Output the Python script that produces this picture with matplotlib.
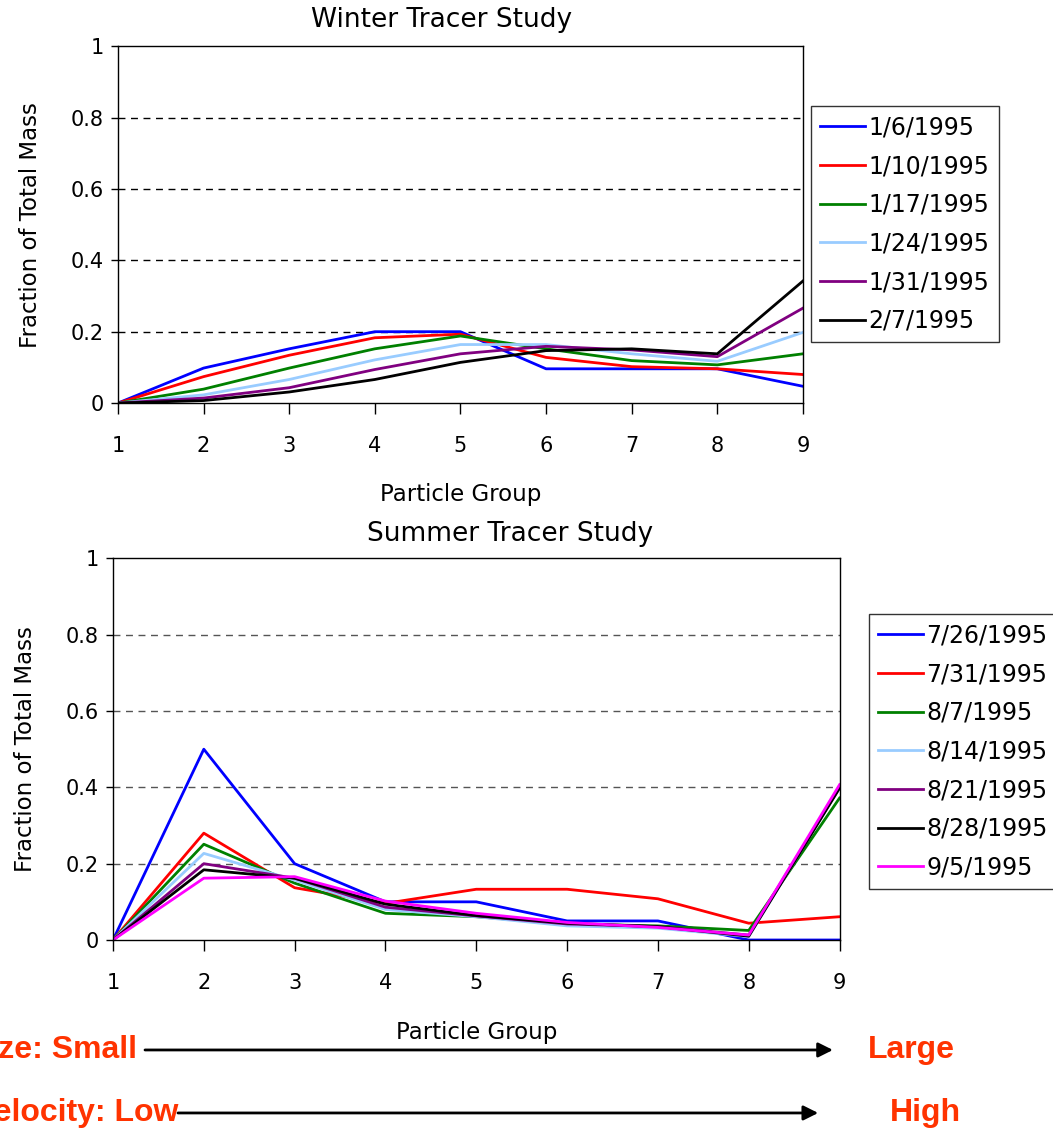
import matplotlib
matplotlib.use("Agg")
import matplotlib.pyplot as plt
from matplotlib.patches import FancyArrowPatch

# particle groups on the x axis
groups = [1, 2, 3, 4, 5, 6, 7, 8, 9]

# winter tracer study: fraction of total mass per particle group
winter_dates = ["1/6/1995", "1/10/1995", "1/17/1995", "1/24/1995", "1/31/1995", "2/7/1995"]
winter_colors = ["#0000ff", "#ff0000", "#008000", "#99ccff", "#800080", "#000000"]
w_0106 = [0, 0.098, 0.152, 0.200, 0.200, 0.096, 0.096, 0.096, 0.047]
w_0110 = [0, 0.074, 0.134, 0.183, 0.193, 0.128, 0.102, 0.096, 0.080]
w_0117 = [0, 0.039, 0.098, 0.152, 0.188, 0.152, 0.119, 0.107, 0.138]
w_0124 = [0, 0.023, 0.066, 0.121, 0.164, 0.164, 0.138, 0.117, 0.198]
w_0131 = [0, 0.014, 0.043, 0.094, 0.138, 0.159, 0.149, 0.130, 0.266]
w_0207 = [0, 0.007, 0.031, 0.066, 0.114, 0.147, 0.152, 0.138, 0.342]
winter_series = [w_0106, w_0110, w_0117, w_0124, w_0131, w_0207]

# summer tracer study
summer_dates = ["7/26/1995", "7/31/1995", "8/7/1995", "8/14/1995", "8/21/1995", "8/28/1995", "9/5/1995"]
summer_colors = ["#0000ff", "#ff0000", "#008000", "#99ccff", "#800080", "#000000", "#ff00ff"]
s_0726 = [0, 0.500, 0.200, 0.100, 0.100, 0.050, 0.050, 0.000, 0.000]
s_0731 = [0, 0.280, 0.137, 0.096, 0.133, 0.133, 0.108, 0.044, 0.061]
s_0807 = [0, 0.251, 0.149, 0.070, 0.061, 0.042, 0.037, 0.025, 0.372]
s_0814 = [0, 0.227, 0.157, 0.080, 0.061, 0.037, 0.031, 0.009, 0.400]
s_0821 = [0, 0.200, 0.162, 0.086, 0.063, 0.042, 0.035, 0.013, 0.400]
s_0828 = [0, 0.184, 0.162, 0.094, 0.064, 0.044, 0.035, 0.010, 0.398]
s_0905 = [0, 0.162, 0.166, 0.102, 0.070, 0.046, 0.033, 0.013, 0.407]
summer_series = [s_0726, s_0731, s_0807, s_0814, s_0821, s_0828, s_0905]

y_ticks = [0, 0.2, 0.4, 0.6, 0.8, 1]
y_tick_labels = ["0", "0.2", "0.4", "0.6", "0.8", "1"]

ORANGE = "#ff3300"

fig = plt.figure(figsize=(10.53, 11.29), dpi=100)


def draw_panel(rect, title, title_pos, dates, colors, series, grid_color,
               legend_anchor, xlab_y, ylab_x):
    ax = fig.add_axes(rect)
    for date, color, values in zip(dates, colors, series):
        ax.plot(groups, values, color=color, lw=2.0, label=date)
    ax.set_xlim(1, 9)
    ax.set_ylim(0, 1)
    ax.set_xticks(groups)
    ax.set_yticks(y_ticks)
    ax.set_yticklabels(y_tick_labels)
    for y in y_ticks[1:-1]:
        ax.axhline(y, color=grid_color, lw=1.0, ls=(0, (5, 4)), zorder=0)
    ax.tick_params(axis="x", direction="out", length=8, width=1, pad=16, labelsize=15)
    ax.tick_params(axis="y", direction="out", length=5, width=1, pad=5, labelsize=15)
    for sp in ax.spines.values():
        sp.set_linewidth(1.0)
    ax.text(title_pos[0], title_pos[1], title, transform=ax.transAxes,
            ha="center", va="center", fontsize=19)
    ax.set_xlabel("Particle Group", fontsize=16.5, va="center")
    ax.set_ylabel("Fraction of Total Mass", fontsize=16.5, va="center")
    ax.xaxis.set_label_coords(0.5, xlab_y)
    ax.yaxis.set_label_coords(ylab_x, 0.5)
    leg = fig.legend(*ax.get_legend_handles_labels(), loc="upper left",
                     bbox_to_anchor=legend_anchor, fontsize=17, frameon=True,
                     fancybox=False, edgecolor="black", handlelength=1.9,
                     handletextpad=0.15, labelspacing=0.62, borderpad=0.4,
                     borderaxespad=0)
    leg.get_frame().set_linewidth(1.0)
    return ax


draw_panel([0.112, 0.643, 0.6505, 0.316], "Winter Tracer Study", (0.473, 1.073),
           winter_dates, winter_colors, winter_series, "black",
           (0.770, 0.906), -0.255, -0.128)
draw_panel([0.1073, 0.1674, 0.690, 0.338], "Summer Tracer Study", (0.547, 1.063),
           summer_dates, summer_colors, summer_series, "#555555",
           (0.825, 0.456), -0.243, -0.121)

# size / velocity arrows along the particle groups
bold = dict(color=ORANGE, fontsize=23, fontweight="bold", family="Liberation Sans", va="center")
fig.text(0.130, 0.070, "Size: Small", ha="right", **bold)
fig.text(0.824, 0.070, "Large", ha="left", **bold)
fig.text(0.169, 0.0142, "Velocity: Low", ha="right", **bold)
fig.text(0.845, 0.0142, "High", ha="left", **bold)

arrow = dict(arrowstyle="-|>", color="black", lw=2, mutation_scale=22,
             shrinkA=0, shrinkB=0, transform=fig.transFigure)
fig.add_artist(FancyArrowPatch((0.1377, 0.070), (0.791, 0.070), **arrow))
fig.add_artist(FancyArrowPatch((0.169, 0.0142), (0.777, 0.0142), **arrow))

fig.savefig("out.png", dpi=100)
